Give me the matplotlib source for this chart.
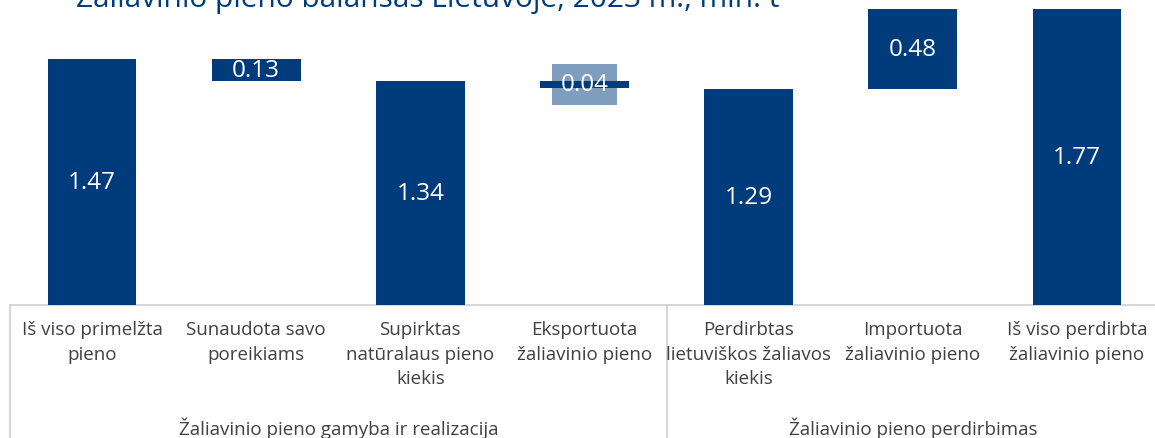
"""
Žaliavinio pieno balansas Lietuvoje - waterfall style bar chart.
"""

import matplotlib

matplotlib.use("Agg")
import matplotlib.pyplot as plt
import matplotlib.transforms as mtransforms

# --------------------------------------------------------------------------- #
# Data
# --------------------------------------------------------------------------- #
TITLE = "Žaliavinio pieno balansas Lietuvoje, 2023 m., mln. t"

categories = [
    "Iš viso primelžta\npieno",
    "Sunaudota savo\nporeikiams",
    "Supirktas\nnatūralaus pieno\nkiekis",
    "Eksportuota\nžaliavinio pieno",
    "Perdirbtas\nlietuviškos žaliavos\nkiekis",
    "Importuota\nžaliavinio pieno",
    "Iš viso perdirbta\nžaliavinio pieno",
]
values = [1.47, 0.13, 1.34, 0.04, 1.29, 0.48, 1.77]
# bottom of each bar (floating bars start where the previous total ends)
bottoms = [0.0, 1.34, 0.0, 1.30, 0.0, 1.29, 0.0]

groups = ["Žaliavinio pieno gamyba ir realizacija", "Žaliavinio pieno perdirbimas"]
group_spans = [(0, 3), (4, 6)]

BLUE = "#003c7b"
LIGHT_BLUE = "#7f9dbd"
GRAY_TEXT = "#404040"
LINE_GRAY = "#d0d0d0"

W, H = 1155, 439
plt.rcParams["font.family"] = ["Open Sans", "DejaVu Sans"]

fig = plt.figure(figsize=(W / 100, H / 100), dpi=100)
ax = fig.add_axes([10 / W, 133 / H, 1149 / W, 306 / H])
ax.set_xlim(-0.5, 6.5)
ax.set_ylim(0, 306 / 167.3)

x = list(range(len(categories)))
ax.bar(x, values, bottom=bottoms, width=0.54, color=BLUE, zorder=3)

# value labels
for i, (v, b) in enumerate(zip(values, bottoms)):
    yc = b + v / 2
    if i == 3:
        # small export bar: label sits in a light box behind the bar
        ax.text(i, yc, f"{v:.2f}", ha="center", va="center", fontsize=17.5,
                color=LIGHT_BLUE, zorder=2,
                bbox=dict(boxstyle="square,pad=0.35", fc=LIGHT_BLUE, ec="none"))
    ax.text(i, yc, f"{v:.2f}", ha="center", va="center", fontsize=17.5,
            color="white", zorder=5)

# axis styling
for side in ["top", "right", "left"]:
    ax.spines[side].set_visible(False)
ax.spines["bottom"].set_color(LINE_GRAY)
ax.spines["bottom"].set_linewidth(1.2)
ax.set_xticks([])
ax.set_yticks([])

# category labels below the axis
trans = mtransforms.blended_transform_factory(ax.transData, ax.transAxes)
for i, label in enumerate(categories):
    ax.text(i, -0.05, label, transform=trans, ha="center", va="top",
            fontsize=13.5, color=GRAY_TEXT, linespacing=1.45)

for name, (a, b) in zip(groups, group_spans):
    ax.text((a + b) / 2, -0.40, name, transform=trans, ha="center",
            va="center", fontsize=13.5, color=GRAY_TEXT)

# group separators
for xs in [-0.5, 3.5, 6.5]:
    ax.plot([xs, xs], [0, -0.44], transform=trans, color=LINE_GRAY,
            lw=1.2, clip_on=False)

fig.text(76 / W, 1 - 7 / H, TITLE, ha="left", va="baseline", fontsize=21.5,
         color=BLUE)

fig.savefig("out.png", dpi=100, facecolor="white")
